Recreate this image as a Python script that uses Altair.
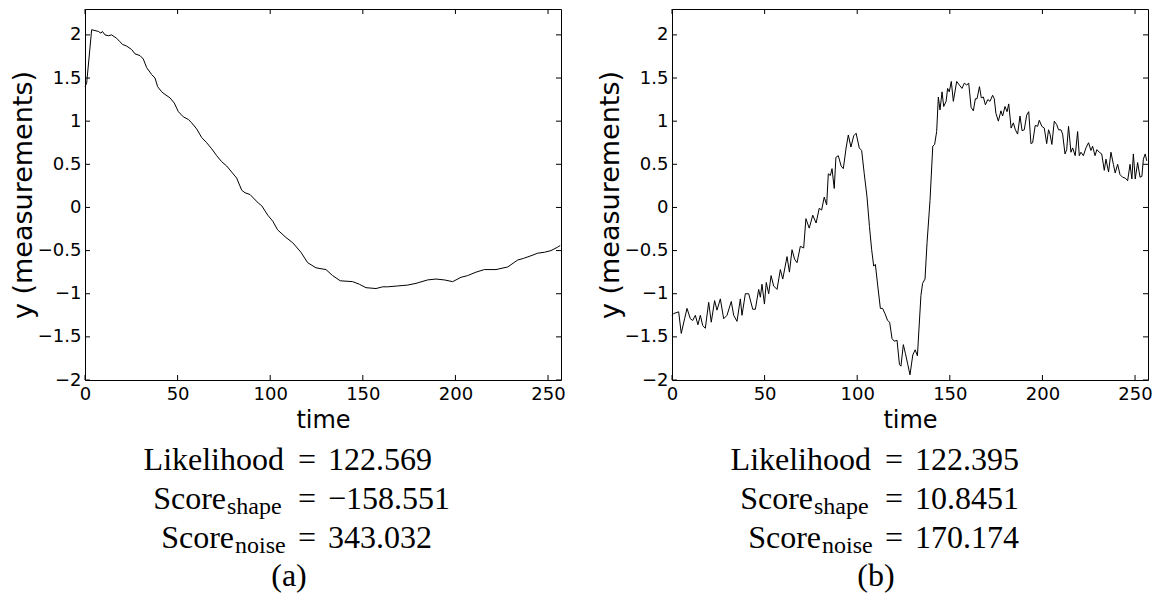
import altair as alt
import pandas as pd

# ---------------- data ----------------
t_a = [0, 0.9, 3.6, 5.4, 7.2, 8.6, 9.4, 10.8, 12.6, 14.4, 17.1, 18.9, 20.2, 22.5, 25.2, 27.0,
       29.7, 31.5, 33.3, 36.0, 37.8, 39.2, 41.4, 43.2, 45.9, 48.2, 50.4, 53.1, 55.8, 57.6,
       60.3, 63.0, 65.7, 68.4, 71.1, 73.8, 76.5, 79.2, 81.9, 84.6, 86.4, 89.1, 90.9, 93.6,
       95.4, 98.7, 101.4, 104.0, 108.6, 112.2, 116.6, 120.2, 124.7, 130.1, 133.7, 137.8,
       144.5, 148.1, 151.7, 157.1, 160.7, 163.4, 168.8, 174.2, 178.7, 185.0, 189.5, 194.0,
       198.5, 203.0, 206.6, 211.1, 215.6, 221.9, 228.2, 233.6, 236.8, 240.8, 244.4, 248.0,
       251.6, 255.2, 256.6]
y_a = [1.40, 1.44, 2.06, 2.05, 2.04, 2.02, 2.04, 2.00, 1.99, 2.00, 1.96, 1.92, 1.89, 1.87,
       1.83, 1.78, 1.76, 1.72, 1.62, 1.54, 1.50, 1.40, 1.34, 1.31, 1.27, 1.21, 1.11, 1.05,
       1.02, 0.98, 0.91, 0.81, 0.75, 0.68, 0.60, 0.53, 0.48, 0.41, 0.34, 0.20, 0.17, 0.15,
       0.11, 0.05, 0.02, -0.09, -0.16, -0.26, -0.35, -0.41, -0.52, -0.64, -0.70, -0.72,
       -0.79, -0.85, -0.86, -0.89, -0.93, -0.94, -0.92, -0.92, -0.91, -0.90, -0.88, -0.84,
       -0.83, -0.84, -0.86, -0.81, -0.79, -0.75, -0.72, -0.72, -0.69, -0.61, -0.59, -0.56,
       -0.53, -0.52, -0.50, -0.46, -0.44]

t_b = [0, 0.9, 3.6, 5.0, 6.8, 8.1, 9.9, 11.2, 12.6, 14.0, 15.3, 16.6, 18.0, 19.8, 21.2, 23.0,
       24.3, 26.1, 27.9, 29.7, 32.0, 33.3, 35.1, 36.9, 37.8, 39.6, 41.4, 43.6, 45.0, 46.8,
       47.7, 48.6, 49.9, 50.9, 52.2, 53.5, 54.9, 56.7, 58.5, 59.8, 62.1, 63.4, 64.8, 66.2,
       67.5, 69.3, 71.1, 72.3, 74.1, 76.0, 77.8, 79.5, 80.8, 82.2, 83.5, 84.4, 85.5, 86.4,
       87.6, 88.5, 89.8, 91.3, 92.5, 94.0, 95.2, 96.6, 98.1, 99.4, 101.1, 102.4, 103.8,
       105.3, 106.6, 107.8, 108.9, 109.8, 111.1, 112.5, 113.7, 115.0, 116.4, 117.5, 118.8,
       120.0, 121.5, 122.8, 123.6, 124.9, 126.0, 127.3, 128.5, 130.0, 131.3, 132.5, 134.4,
       135.3, 136.6, 137.7, 139.3, 140.8, 141.8, 142.9, 143.8, 144.7, 145.8, 146.7, 148.0,
       148.8, 149.7, 150.8, 151.9, 153.7, 155.1, 156.6, 157.8, 159.1, 160.2, 161.5, 162.7,
       163.8, 164.7, 166.0, 167.0, 168.1, 169.2, 170.5, 171.7, 173.1, 174.0, 174.9, 176.2,
       177.6, 178.5, 179.8, 180.9, 181.8, 183.1, 184.3, 185.4, 186.6, 187.9, 189.0, 190.2,
       191.5, 192.6, 193.8, 194.7, 196.1, 197.4, 198.3, 199.7, 201.0, 202.3, 203.3, 204.1,
       205.1, 206.4, 207.7, 208.7, 210.0, 210.9, 212.2, 213.1, 214.1, 215.4, 216.3, 217.7,
       219.0, 219.9, 220.8, 222.1, 223.5, 224.9, 226.2, 227.1, 228.4, 229.4, 230.7, 232.0,
       233.4, 234.3, 235.7, 237.0, 238.3, 239.3, 240.6, 241.9, 243.3, 244.7, 246.0, 247.3,
       248.3, 249.1, 250.1, 251.4, 252.7, 253.7, 254.5, 255.5, 256.3]
y_b = [-1.25, -1.23, -1.21, -1.46, -1.29, -1.17, -1.29, -1.31, -1.25, -1.36, -1.25, -1.37,
       -1.40, -1.10, -1.33, -1.08, -1.19, -1.06, -1.29, -1.25, -1.09, -1.25, -1.32, -1.06,
       -1.25, -1.00, -1.00, -1.18, -1.18, -0.95, -1.04, -0.89, -1.12, -0.87, -1.00, -0.79,
       -0.91, -0.95, -0.72, -0.83, -0.57, -0.75, -0.49, -0.60, -0.64, -0.45, -0.47, -0.13,
       -0.24, -0.09, -0.18, -0.01, -0.03, 0.12, 0.03, 0.39, 0.37, 0.45, 0.22, 0.58, 0.60,
       0.48, 0.45, 0.69, 0.84, 0.70, 0.83, 0.86, 0.69, 0.66, 0.39, 0.12, -0.22, -0.49, -0.68,
       -0.66, -0.91, -1.17, -1.17, -1.23, -1.31, -1.33, -1.52, -1.55, -1.54, -1.82, -1.84,
       -1.59, -1.69, -1.82, -1.94, -1.71, -1.65, -1.72, -1.02, -0.88, -0.83, -0.41, 0.08,
       0.71, 0.73, 0.88, 1.28, 1.13, 1.34, 1.17, 1.23, 1.38, 1.34, 1.46, 1.23, 1.46, 1.42,
       1.38, 1.44, 1.42, 1.44, 1.16, 1.12, 1.26, 1.26, 1.40, 1.27, 1.28, 1.19, 1.25, 1.23,
       1.30, 1.26, 1.09, 1.00, 1.12, 1.06, 1.17, 1.11, 1.20, 0.92, 0.98, 0.90, 0.85, 1.06,
       0.89, 0.90, 1.07, 1.11, 0.74, 0.75, 0.95, 0.94, 1.01, 0.94, 0.92, 0.74, 0.90, 0.85,
       0.73, 1.00, 0.96, 0.90, 0.90, 0.85, 0.62, 0.67, 0.94, 0.64, 0.69, 0.60, 0.88, 0.60,
       0.64, 0.60, 0.69, 0.75, 0.66, 0.71, 0.60, 0.67, 0.64, 0.62, 0.43, 0.56, 0.41, 0.64,
       0.50, 0.40, 0.50, 0.38, 0.35, 0.34, 0.31, 0.50, 0.33, 0.62, 0.33, 0.52, 0.35, 0.36,
       0.56, 0.62, 0.54]

x_ticks = [0, 50, 100, 150, 200, 250]
y_ticks = [-2, -1.5, -1, -0.5, 0, 0.5, 1, 1.5, 2]
x_domain = [0, 257]
y_domain = [-2, 2.3]

panel_tags = ["(a)", "(b)"]
likelihood = ["122.569", "122.395"]
score_shape = ["\u2212158.551", "10.8451"]
score_noise = ["343.032", "170.174"]

# ---------------- style / layout ----------------
W, H = 476, 371
SANS = "DejaVu Sans"
SERIF = "Liberation Serif"
TICK = 5
EQ_X, LHS_R, RHS_L = 222, 199, 243
BASE = [461, 500, 539, 577]
MAIN_FS, SUB_FS = 32, 24

xs = alt.Scale(domain=x_domain, nice=False, zero=False)
ys = alt.Scale(domain=y_domain, nice=False, zero=False)
x_axis = alt.Axis(values=x_ticks, title="time", titleFontSize=24, labelPadding=5,
                  titlePadding=5, labelFlush=False, labelOverlap=False)
y_axis = alt.Axis(values=y_ticks, format="~g", title="y (measurements)", titleFontSize=27,
                  labelPadding=4, titlePadding=0, labelFlush=False, labelOverlap=False)


def text(txt, x, y, size, align, font=SERIF):
    return alt.Chart(pd.DataFrame({"label": [txt]})).mark_text(
        align=align, baseline="alphabetic", font=font, fontSize=size, color="black"
    ).encode(x=alt.value(x), y=alt.value(y), text="label:N")


def panel(t, y, i):
    df = pd.DataFrame({"time": t, "y": y})
    line = alt.Chart(df).mark_line(color="black", strokeWidth=1).encode(
        x=alt.X("time:Q", scale=xs, axis=x_axis),
        y=alt.Y("y:Q", scale=ys, axis=y_axis),
    )
    xt = pd.DataFrame({"time": x_ticks})
    yt = pd.DataFrame({"y": y_ticks})
    rule = dict(color="black", strokeWidth=1)
    xtop = alt.Chart(xt).mark_rule(**rule).encode(
        x=alt.X("time:Q", scale=xs, axis=x_axis), y=alt.value(0), y2=alt.value(TICK))
    xbot = alt.Chart(xt).mark_rule(**rule).encode(
        x=alt.X("time:Q", scale=xs, axis=x_axis), y=alt.value(H - TICK), y2=alt.value(H))
    yl = alt.Chart(yt).mark_rule(**rule).encode(
        y=alt.Y("y:Q", scale=ys, axis=y_axis), x=alt.value(0), x2=alt.value(TICK))
    yr = alt.Chart(yt).mark_rule(**rule).encode(
        y=alt.Y("y:Q", scale=ys, axis=y_axis), x=alt.value(W - TICK), x2=alt.value(W))

    sub_w = {"shape": 58, "noise": 50}
    texts = [
        text("Likelihood", LHS_R, BASE[0], MAIN_FS, "right"),
        text("=", EQ_X, BASE[0], MAIN_FS, "center"),
        text(likelihood[i], RHS_L, BASE[0], MAIN_FS, "left"),
        text("Score", LHS_R - sub_w["shape"], BASE[1], MAIN_FS, "right"),
        text("shape", LHS_R - sub_w["shape"] + 1, BASE[1] + 5, SUB_FS, "left"),
        text("=", EQ_X, BASE[1], MAIN_FS, "center"),
        text(score_shape[i], RHS_L, BASE[1], MAIN_FS, "left"),
        text("Score", LHS_R - sub_w["noise"], BASE[2], MAIN_FS, "right"),
        text("noise", LHS_R - sub_w["noise"] + 1, BASE[2] + 5, SUB_FS, "left"),
        text("=", EQ_X, BASE[2], MAIN_FS, "center"),
        text(score_noise[i], RHS_L, BASE[2], MAIN_FS, "left"),
        text(panel_tags[i], 204, BASE[3], MAIN_FS, "center"),
    ]
    return alt.layer(line, xtop, xbot, yl, yr, *texts).properties(width=W, height=H)


chart = alt.hconcat(panel(t_a, y_a, 0), panel(t_b, y_b, 1), spacing=111, bounds="flush").properties(
    padding={"left": 0, "top": 0, "right": 0, "bottom": 0}
).configure_view(stroke="black", strokeWidth=1).configure_axis(
    domain=False, ticks=False, tickSize=0, grid=False,
    labelFont=SANS, labelFontSize=18, labelColor="black",
    titleFont=SANS, titleFontWeight="normal", titleColor="black",
)

chart.save("out.html", embed_options={"renderer": "svg", "actions": False})
